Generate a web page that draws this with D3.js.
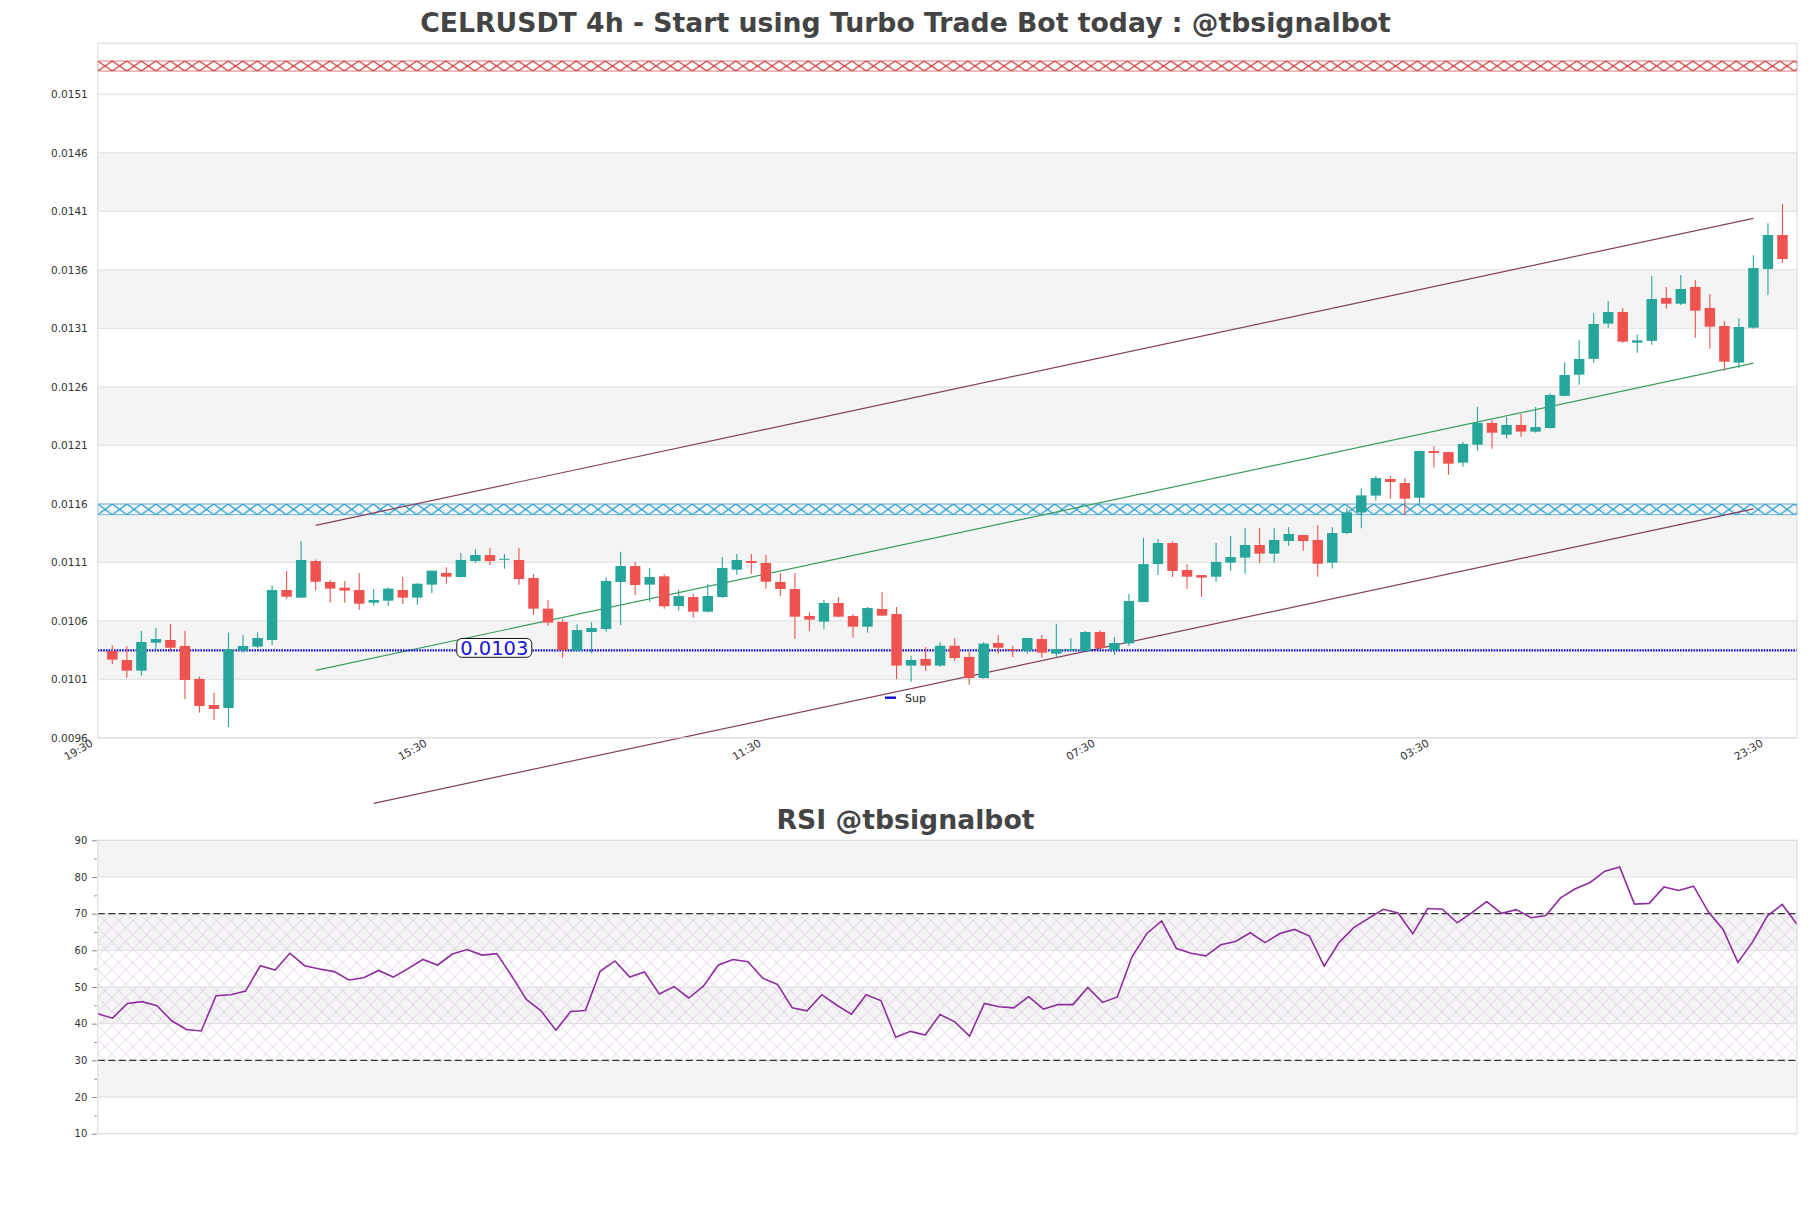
<!DOCTYPE html>
<html><head><meta charset="utf-8">
<script src="https://cdn.jsdelivr.net/npm/d3@7/dist/d3.min.js"></script>
<style>html,body{margin:0;padding:0;background:#fff;} svg text{font-family:"DejaVu Sans",sans-serif;}</style>
</head><body>
<svg id="chart" width="1811" height="1208"></svg>
<script>
// ---------------- DATA ----------------
const opens = [0.010342,0.010265,0.010174,0.010413,0.010436,0.010385,0.010103,0.009880,0.009855,0.010345,
0.010379,0.010436,0.010863,0.010798,0.011111,0.010932,0.010883,0.010863,0.010755,0.010772,
0.010863,0.010798,0.010909,0.011009,0.010974,0.011111,0.011162,0.011125,0.011120,0.010966,
0.010704,0.010590,0.010345,0.010504,0.010530,0.010932,0.011068,0.010909,0.010980,0.010726,
0.010803,0.010678,0.010803,0.011037,0.011111,0.011094,0.010932,0.010872,0.010641,0.010593,
0.010752,0.010641,0.010550,0.010701,0.010658,0.010217,0.010274,0.010217,0.010387,0.010291,
0.010111,0.010410,0.010359,0.010345,0.010444,0.010319,0.010348,0.010342,0.010504,0.010350,
0.010407,0.010760,0.011085,0.011265,0.011034,0.010991,0.010977,0.011097,0.011140,0.011248,
0.011174,0.011282,0.011333,0.011291,0.011097,0.011350,0.011527,0.011670,0.011812,0.011778,
0.011652,0.012051,0.012042,0.011952,0.012105,0.012291,0.012191,0.012274,0.012217,0.012248,
0.012523,0.012704,0.012839,0.013140,0.013239,0.012977,0.012993,0.013359,0.013310,0.013453,
0.013274,0.013120,0.012807,0.013105,0.013607,0.013897];
const highs = [0.010393,0.010385,0.010513,0.010538,0.010573,0.010513,0.010123,0.009986,0.010496,0.010479,
0.010501,0.010903,0.011026,0.011282,0.011125,0.010949,0.010940,0.011009,0.010872,0.010885,
0.010974,0.010920,0.011030,0.011057,0.011179,0.011214,0.011222,0.011171,0.011222,0.011000,
0.010778,0.010613,0.010570,0.010587,0.010972,0.011191,0.011103,0.011051,0.010997,0.010863,
0.010832,0.010917,0.011145,0.011171,0.011171,0.011162,0.011009,0.011009,0.010672,0.010778,
0.010803,0.010658,0.010718,0.010846,0.010718,0.010296,0.010376,0.010419,0.010453,0.010336,
0.010419,0.010479,0.010387,0.010455,0.010479,0.010575,0.010453,0.010510,0.010519,0.010462,
0.010829,0.011308,0.011299,0.011281,0.011085,0.010992,0.011265,0.011325,0.011393,0.011393,
0.011390,0.011399,0.011335,0.011416,0.011399,0.011561,0.011732,0.011838,0.011838,0.011820,
0.012055,0.012091,0.012045,0.012128,0.012427,0.012316,0.012342,0.012368,0.012427,0.012544,
0.012809,0.012997,0.013228,0.013333,0.013274,0.013048,0.013547,0.013453,0.013556,0.013513,
0.013393,0.013162,0.013188,0.013724,0.013997,0.014162];
const lows = [0.010228,0.010114,0.010131,0.010350,0.010339,0.009932,0.009815,0.009752,0.009692,0.010330,
0.010365,0.010393,0.010789,0.010795,0.010858,0.010755,0.010755,0.010695,0.010729,0.010727,
0.010744,0.010738,0.010838,0.010917,0.010970,0.011097,0.011077,0.011044,0.010909,0.010652,
0.010558,0.010285,0.010340,0.010322,0.010507,0.010564,0.010821,0.010764,0.010704,0.010687,
0.010627,0.010670,0.010795,0.010994,0.011000,0.010875,0.010812,0.010444,0.010516,0.010533,
0.010630,0.010456,0.010499,0.010640,0.010100,0.010080,0.010171,0.010208,0.010256,0.010054,
0.010104,0.010319,0.010291,0.010319,0.010285,0.010291,0.010339,0.010340,0.010359,0.010308,
0.010385,0.010760,0.010991,0.010974,0.010872,0.010803,0.010934,0.011028,0.011003,0.011094,
0.011097,0.011242,0.011199,0.010977,0.011046,0.011341,0.011390,0.011627,0.011644,0.011499,
0.011593,0.011909,0.011849,0.011917,0.012054,0.012071,0.012157,0.012174,0.012210,0.012241,
0.012520,0.012618,0.012806,0.013105,0.012977,0.012892,0.012960,0.013268,0.013300,0.013020,
0.012926,0.012738,0.012758,0.013097,0.013385,0.013658];
const closes = [0.010268,0.010174,0.010419,0.010444,0.010370,0.010094,0.009872,0.009846,0.010356,0.010385,
0.010453,0.010863,0.010806,0.011120,0.010934,0.010875,0.010858,0.010746,0.010778,0.010875,
0.010798,0.010917,0.011028,0.010977,0.011120,0.011162,0.011111,0.011130,0.010957,0.010704,
0.010584,0.010350,0.010521,0.010538,0.010940,0.011068,0.010906,0.010974,0.010724,0.010812,
0.010678,0.010812,0.011051,0.011120,0.011094,0.010934,0.010872,0.010635,0.010610,0.010752,
0.010635,0.010550,0.010709,0.010644,0.010217,0.010265,0.010217,0.010387,0.010282,0.010111,
0.010405,0.010370,0.010348,0.010453,0.010328,0.010359,0.010359,0.010504,0.010368,0.010410,
0.010769,0.011085,0.011265,0.011026,0.010977,0.010969,0.011103,0.011145,0.011248,0.011174,
0.011291,0.011342,0.011282,0.011088,0.011350,0.011527,0.011672,0.011820,0.011786,0.011644,
0.012051,0.012034,0.011943,0.012111,0.012291,0.012208,0.012274,0.012217,0.012256,0.012530,
0.012701,0.012838,0.013137,0.013239,0.012986,0.012997,0.013350,0.013310,0.013436,0.013251,
0.013114,0.012815,0.013111,0.013615,0.013897,0.013692];
const rsiValues = [42.7,41.5,45.5,46.0,44.9,40.8,38.4,38.0,47.6,47.9,48.9,55.8,54.6,59.2,55.8,54.9,54.2,51.9,52.5,54.5,
52.7,55.0,57.5,56.0,59.0,60.2,58.7,59.1,53.1,46.6,43.5,38.2,43.3,43.6,54.3,57.1,52.7,54.1,48.1,50.1,
47.0,50.3,56.0,57.5,56.9,52.4,50.7,44.3,43.5,47.9,45.1,42.6,47.9,46.3,36.3,37.9,36.9,42.5,40.5,36.6,
45.5,44.6,44.3,47.4,44.0,45.2,45.2,49.9,45.8,47.3,58.3,64.6,68.0,60.5,59.2,58.5,61.5,62.4,64.8,62.1,
64.6,65.7,63.9,55.7,62.1,66.2,68.7,71.2,70.2,64.5,71.4,71.2,67.5,70.3,73.3,70.1,71.1,68.9,69.5,74.3,
76.8,78.5,81.6,82.7,72.6,72.8,77.3,76.3,77.5,70.5,65.7,56.7,62.3,69.4,72.5,67.1];
const xTickIndex = [0,23,46,69,92,115];
const xTickLabels = ["19:30","15:30","11:30","07:30","03:30","23:30"];
const priceTicks = [0.0096,0.0101,0.0106,0.0111,0.0116,0.0121,0.0126,0.0131,0.0136,0.0141,0.0146,0.0151];
const rsiTicks = [10,20,30,40,50,60,70,80,90];
const rsiMinorTicks = [15,25,35,45,55,65,75,85];
const supportLevel = 0.010348;
const supportLabel = "0.0103";
const resistanceZone = [0.015299, 0.015385];
const middleZone = [0.011507, 0.011598];
const channelUpper = [[15, 0.011416], [114, 0.014040]];
const channelLower = [[19, 0.009040], [114, 0.011557]];
const trendGreen = [[15, 0.010177], [114, 0.012803]];
const rsiLevels = [30, 70];
const titleMain = "CELRUSDT 4h - Start using Turbo Trade Bot today : @tbsignalbot";
const titleRsi = "RSI @tbsignalbot";

// ---------------- LAYOUT ----------------
const svg = d3.select("#chart");
const L = 97.8, R = 1797, T1 = 43.3, B1 = 737.8, T2 = 840.3, B2 = 1133.7;
const x = d3.scaleLinear().domain([0, 117]).range([L, R]);
const y = d3.scaleLinear().domain([0.0096, 0.015536]).range([B1, T1]);
const xr = d3.scaleLinear().domain([0, rsiValues.length - 1]).range([L, R]);
const yr = d3.scaleLinear().domain([10, 90]).range([B2, T2]);
const GREEN = "#26a69a", RED = "#ef5350";

const defs = svg.append("defs");
function xPattern(id, w, h, color, sw, oy) {
  const p = defs.append("pattern").attr("id", id).attr("patternUnits", "userSpaceOnUse")
    .attr("width", w).attr("height", h).attr("x", L).attr("y", oy || 0);
  p.append("path").attr("d", `M0,0L${w},${h}M${w},0L0,${h}`)
    .attr("stroke", color).attr("stroke-width", sw).attr("fill", "none");
}
xPattern("hatchRed", 14.5, y(resistanceZone[0]) - y(resistanceZone[1]), "#c8302e", 1.25, y(resistanceZone[1]));
xPattern("hatchBlue", 14.5, y(middleZone[0]) - y(middleZone[1]), "#1e9bd0", 1.25, y(middleZone[1]));
xPattern("hatchRsi", 14, 14, "#d8b7df", 0.6, yr(70));

// ---------------- MAIN PANEL ----------------
const main = svg.append("g");
for (let i = 0; i < priceTicks.length - 1; i++) {
  if (i % 2 === 1) {
    main.append("rect").attr("x", L).attr("width", R - L)
      .attr("y", y(priceTicks[i + 1])).attr("height", y(priceTicks[i]) - y(priceTicks[i + 1]))
      .attr("fill", "#f4f4f4");
  }
}
main.append("g").selectAll("line").data(priceTicks).join("line")
  .attr("x1", L).attr("x2", R).attr("y1", d => y(d)).attr("y2", d => y(d))
  .attr("stroke", "#dedede").attr("stroke-width", 1);

[[resistanceZone, "hatchRed", "#c8302e"], [middleZone, "hatchBlue", "#1e9bd0"]].forEach(([z, pid, col]) => {
  main.append("rect").attr("x", L).attr("width", R - L)
    .attr("y", y(z[1])).attr("height", y(z[0]) - y(z[1]))
    .attr("fill", `url(#${pid})`).attr("stroke", col).attr("stroke-width", 0.9).attr("stroke-opacity", 0.7);
});

[[channelUpper, "#84405a"], [channelLower, "#84405a"], [trendGreen, "#3a9d5d"]].forEach(([ln, col]) => {
  main.append("line").attr("x1", x(ln[0][0])).attr("y1", y(ln[0][1]))
    .attr("x2", x(ln[1][0])).attr("y2", y(ln[1][1]))
    .attr("stroke", col).attr("stroke-width", 1.2);
});

main.append("line").attr("x1", L).attr("x2", R).attr("y1", y(supportLevel)).attr("y2", y(supportLevel))
  .attr("stroke", "#0a0ac8").attr("stroke-width", 2.2).attr("stroke-dasharray", "1.6,1.1");

const step = x(1) - x(0), bw = step * 0.72;
const candles = opens.map((o, i) => ({ i: i + 1, o, h: highs[i], l: lows[i], c: closes[i] }));
const cg = main.append("g");
cg.selectAll("line").data(candles).join("line")
  .attr("x1", d => x(d.i)).attr("x2", d => x(d.i))
  .attr("y1", d => y(d.h)).attr("y2", d => y(d.l))
  .attr("stroke", d => d.c >= d.o ? GREEN : RED).attr("stroke-width", 1.1);
cg.selectAll("rect").data(candles).join("rect")
  .attr("x", d => x(d.i) - bw / 2).attr("width", bw)
  .attr("y", d => y(Math.max(d.o, d.c)))
  .attr("height", d => Math.max(1, Math.abs(y(d.o) - y(d.c))))
  .attr("fill", d => d.c >= d.o ? GREEN : RED);

const lab = main.append("g").attr("transform", `translate(${x(27.3)},${y(supportLevel) - 2.4})`);
lab.append("rect").attr("x", -37.5).attr("y", -9.4).attr("width", 75).attr("height", 18.8)
  .attr("rx", 5).attr("fill", "#fff").attr("stroke", "#111").attr("stroke-width", 1);
lab.append("text").attr("text-anchor", "middle").attr("dy", "0.37em").attr("font-size", 19.5)
  .attr("fill", "#1515d6").text(supportLabel);

const lg = main.append("g");
lg.append("line").attr("x1", 885).attr("x2", 896).attr("y1", 697.7).attr("y2", 697.7)
  .attr("stroke", "#0a0ac8").attr("stroke-width", 2.4);
lg.append("text").attr("x", 905).attr("y", 701.8).attr("font-size", 11).attr("fill", "#222").text("Sup");

main.append("rect").attr("x", L).attr("y", T1).attr("width", R - L).attr("height", B1 - T1)
  .attr("fill", "none").attr("stroke", "#d9d9d9").attr("stroke-width", 1);

const yAxis = d3.axisLeft(y).tickValues(priceTicks).tickSize(0).tickPadding(10).tickFormat(d3.format(".4f"));
const ya = main.append("g").attr("transform", `translate(${L},0)`).call(yAxis);
ya.select(".domain").remove();
ya.selectAll("text").attr("font-size", 10.5).attr("fill", "#333").style("font-family", "DejaVu Sans");

const xa = main.append("g");
xa.selectAll("text").data(xTickIndex).join("text")
  .attr("transform", (d) => `translate(${x(d) - 4},${B1 + 7.5}) rotate(-30)`)
  .attr("text-anchor", "end").attr("font-size", 10.8).attr("fill", "#333")
  .text((d, i) => xTickLabels[i]);

svg.append("text").attr("x", 905.5).attr("y", 32.3).attr("text-anchor", "middle")
  .attr("font-size", 26.7).attr("font-weight", "bold").attr("fill", "#444").text(titleMain);

// ---------------- RSI PANEL ----------------
const rp = svg.append("g");
for (let i = 0; i < rsiTicks.length - 1; i++) {
  if (i % 2 === 1) {
    rp.append("rect").attr("x", L).attr("width", R - L)
      .attr("y", yr(rsiTicks[i + 1])).attr("height", yr(rsiTicks[i]) - yr(rsiTicks[i + 1]))
      .attr("fill", "#f4f4f4");
  }
}
rp.append("rect").attr("x", L).attr("width", R - L).attr("y", yr(70)).attr("height", yr(30) - yr(70))
  .attr("fill", "url(#hatchRsi)");
rp.append("g").selectAll("line").data(rsiTicks).join("line")
  .attr("x1", L).attr("x2", R).attr("y1", d => yr(d)).attr("y2", d => yr(d))
  .attr("stroke", "#dedede");
rp.append("g").selectAll("line").data(rsiLevels).join("line")
  .attr("x1", L).attr("x2", R).attr("y1", d => yr(d)).attr("y2", d => yr(d))
  .attr("stroke", "#333").attr("stroke-width", 1.2).attr("stroke-dasharray", "7,3.5");
rp.append("path").datum(rsiValues)
  .attr("d", d3.line().x((d, i) => xr(i)).y(d => yr(d)))
  .attr("fill", "none").attr("stroke", "#8e2d9e").attr("stroke-width", 1.6);
rp.append("rect").attr("x", L).attr("y", T2).attr("width", R - L).attr("height", B2 - T2)
  .attr("fill", "none").attr("stroke", "#d9d9d9");
const ra = rp.append("g").attr("transform", `translate(${L - 1},0)`)
  .call(d3.axisLeft(yr).tickValues(rsiTicks).tickSize(5).tickPadding(4.5));
ra.select(".domain").remove();
ra.selectAll("line").attr("stroke", "#888");
ra.selectAll("text").attr("font-size", 10).attr("fill", "#333").style("font-family", "DejaVu Sans");
const rm = rp.append("g").attr("transform", `translate(${L - 1},0)`)
  .call(d3.axisLeft(yr).tickValues(rsiMinorTicks).tickSize(2.5).tickFormat(""));
rm.select(".domain").remove();
rm.selectAll("line").attr("stroke", "#888");

svg.append("text").attr("x", 905.5).attr("y", 829).attr("text-anchor", "middle")
  .attr("font-size", 26.7).attr("font-weight", "bold").attr("fill", "#444").text(titleRsi);
</script>
</body></html>
